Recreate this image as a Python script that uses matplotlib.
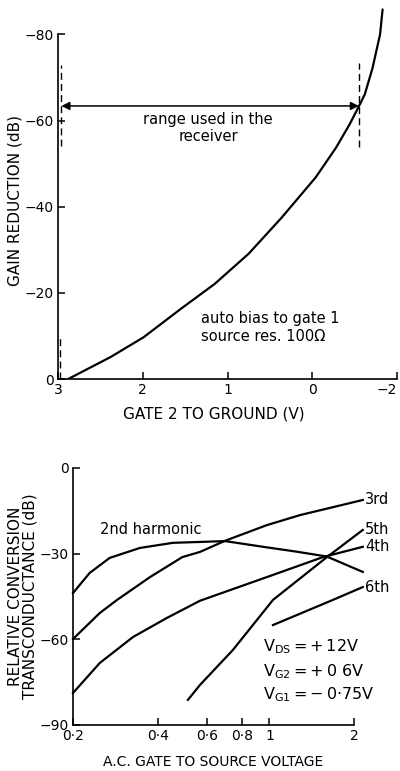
import matplotlib
matplotlib.use('Agg')
import matplotlib.pyplot as plt

plt.rcParams['font.family'] = ['DejaVu Sans']
plt.rcParams['axes.unicode_minus'] = True

# top chart: gain reduction vs gate 2 voltage
gate2_v = [2.88, 2.38, 1.99, 1.55, 1.15, 0.75, 0.36, -0.04, -0.28,
           -0.44, -0.56, -0.62, -0.71, -0.80, -0.83]
gain_red = [0, -5.1, -9.7, -16.3, -22.1, -29.1, -37.5, -46.8, -53.7,
            -59.1, -63.7, -66.1, -72.1, -80, -85.8]
top_xticks = [3, 2, 1, 0, -1]
top_xlabels = ['3', '2', '1', '0', '\u22122']
top_yticks = [0, -20, -40, -60, -80]
top_ylabels = ['0', '\u221220', '\u221240', '\u221260', '\u221280']
range_lo, range_hi, range_db = 2.96, -0.55, -63.4

# bottom chart: conversion transconductance vs ac gate voltage
h2_x = [0.2, 0.229, 0.270, 0.346, 0.454, 0.566, 0.695, 0.98, 1.25, 1.60, 2.15]
h2_y = [-43.8, -36.8, -31.5, -28, -26.2, -25.9, -25.6, -27.8, -29.3, -31, -36.4]
h3_x = [0.2, 0.249, 0.287, 0.376, 0.49, 0.566, 0.695, 0.98, 1.285, 2.15]
h3_y = [-59.9, -50.8, -46.2, -38.2, -31.2, -29.4, -25.5, -20, -16.5, -11.2]
h4_x = [0.2, 0.249, 0.327, 0.432, 0.566, 0.98, 1.552, 2.15]
h4_y = [-78.8, -68.3, -59.2, -52.5, -46.5, -38.2, -31.2, -27.6]
h5_x = [0.513, 0.566, 0.742, 1.03, 1.603, 2.15]
h5_y = [-81.2, -76, -63.7, -46.2, -31.2, -21.7]
h6_x = [1.03, 1.683, 2.15]
h6_y = [-55, -46.2, -41.7]
bot_xticks = [0.2, 0.4, 0.6, 0.8, 1, 2]
bot_xlabels = ['0\u00b72', '0\u00b74', '0\u00b76', '0\u00b78', '1', '2']
bot_yticks = [0, -30, -60, -90]
bot_ylabels = ['0', '\u221230', '\u221260', '\u221290']

LW = 1.6
TXT = 10.5
LBL = 11
fig = plt.figure(figsize=(4, 7.71), dpi=100)

# ---- top axes
ax1 = fig.add_axes([0.145, 0.5084, 0.8475, 0.4916])
ax1.plot(gate2_v, gain_red, color='black', lw=LW, solid_capstyle='round')
ax1.set_xlim(3.0, -1.0)
ax1.set_ylim(0, -88)
ax1.spines['top'].set_visible(False)
ax1.spines['right'].set_visible(False)
ax1.spines['left'].set_bounds(0, -80)
for s in ax1.spines.values():
    s.set_linewidth(1.2)
ax1.set_xticks(top_xticks)
ax1.set_xticklabels(top_xlabels)
ax1.get_xticklabels()[-1].set_ha('right')
ax1.set_yticks(top_yticks)
ax1.set_yticklabels(top_ylabels)
ax1.tick_params(direction='in', length=5, width=1.1, labelsize=10, pad=3)

# range markers
dash = (0, (5, 3))
ax1.plot([range_lo, range_lo], [-54, -73], color='black', lw=1, ls=dash)
ax1.plot([range_lo + 0.02, range_lo + 0.02], [0, -10], color='black', lw=1, ls=dash)
ax1.plot([range_hi, range_hi], [-53.9, -73.3], color='black', lw=1, ls=dash)
ax1.annotate('', xy=(range_hi, range_db), xytext=(range_lo, range_db),
             arrowprops=dict(arrowstyle='<|-|>', color='black', lw=1.1,
                             mutation_scale=12, shrinkA=0, shrinkB=0))
ax1.text(1.23, -60.3, 'range used in the', ha='center', va='center', fontsize=TXT)
ax1.text(1.23, -56.2, 'receiver', ha='center', va='center', fontsize=TXT)
ax1.text(1.31, -14.0, 'auto bias to gate 1', ha='left', va='center', fontsize=TXT)
ax1.text(1.31, -9.8, 'source res. 100\u03a9', ha='left', va='center', fontsize=TXT)

ax1.set_xlabel('GATE 2 TO GROUND (V)', fontsize=LBL)
ax1.xaxis.set_label_coords(0.46, -0.072)
ax1.set_ylabel('GAIN REDUCTION (dB)', fontsize=LBL)
ax1.yaxis.set_label_coords(-0.106, 0.47)

# ---- bottom axes
ax2 = fig.add_axes([0.1825, 0.0597, 0.7315, 0.3333])
for xs, ys in [(h2_x, h2_y), (h3_x, h3_y), (h4_x, h4_y), (h5_x, h5_y), (h6_x, h6_y)]:
    ax2.plot(xs, ys, color='black', lw=LW, clip_on=False)
ax2.set_xscale('log')
ax2.set_xlim(0.2, 2.2)
ax2.set_ylim(-90, 0)
ax2.spines['top'].set_visible(False)
ax2.spines['right'].set_visible(False)
ax2.spines['bottom'].set_bounds(0.2, 2)
for s in ax2.spines.values():
    s.set_linewidth(1.2)
ax2.set_xticks(bot_xticks)
ax2.set_xticklabels(bot_xlabels)
ax2.xaxis.set_minor_locator(matplotlib.ticker.NullLocator())
ax2.set_yticks(bot_yticks)
ax2.set_yticklabels(bot_ylabels)
ax2.tick_params(direction='in', length=5, width=1.1, labelsize=10, pad=3)

ax2.text(0.249, -21.7, '2nd harmonic', ha='left', va='center', fontsize=TXT)
for name, xs, ys in [('3rd', h3_x, h3_y), ('5th', h5_x, h5_y),
                     ('4th', h4_x, h4_y), ('6th', h6_x, h6_y)]:
    ax2.text(xs[-1] * 1.02, ys[-1], name, ha='left', va='center', fontsize=TXT)

ax2.text(0.948, -62.7, r'$\mathregular{V_{DS}=+\,12V}$', ha='left', va='center', fontsize=11.5)
ax2.text(0.948, -71.4, r'$\mathregular{V_{G2}=+\,0\ 6V}$', ha='left', va='center', fontsize=11.5)
ax2.text(0.948, -79.5, r'$\mathregular{V_{G1}=-\,0{\cdot}75V}$', ha='left', va='center', fontsize=11.5)

ax2.set_xlabel('A.C. GATE TO SOURCE VOLTAGE', fontsize=10)
ax2.xaxis.set_label_coords(0.478, -0.115)
ax2.set_ylabel('RELATIVE CONVERSION\nTRANSCONDUCTANCE (dB)', fontsize=LBL, linespacing=1.0)
ax2.yaxis.set_label_coords(-0.12, 0.5)

fig.savefig('out.png', dpi=100)
